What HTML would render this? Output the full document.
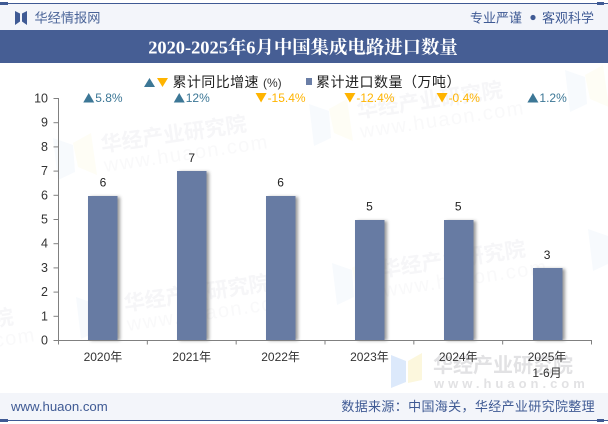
<!DOCTYPE html>
<html lang="zh">
<head>
<meta charset="utf-8">
<title>2020-2025年6月中国集成电路进口数量</title>
<style>
html,body{margin:0;padding:0;background:#fff}
#stage{position:relative;width:608px;height:424px;overflow:hidden;background:#fff;font-family:"Liberation Sans","Noto Sans CJK SC",sans-serif}
svg{position:absolute;left:0;top:0}
text{font-family:"Liberation Sans","Noto Sans CJK SC",sans-serif}
.wm-title{font-size:21px;font-weight:bold;fill:#f6f6f8}
.wm-url{font-size:20px;letter-spacing:1.5px;fill:#f9f9fa}
.wm-blue{fill:#f7fafd}
.wm-yellow{fill:#fefdf5}
</style>
</head>
<body>
<div id="stage">
<svg id="chart" width="608" height="424" viewBox="0 0 608 424">
  <defs>
    <filter id="bar-shadow" x="-20%" y="-5%" width="160%" height="110%">
      <feGaussianBlur stdDeviation="1.6"/>
    </filter>
  </defs>

  <g>
    <g transform="translate(102,152)">
      <path class="wm-blue" d="M-49 -14 L-29 -7 L-27 20 L-44 28 Z"/><path class="wm-yellow" d="M-29 -9 L-11 -19 L-5 23 L-24 15 Z"/>
      <text class="wm-title" transform="rotate(-8.3)">华经产业研究院</text>
      <text class="wm-url" transform="translate(3,20) rotate(-8.3)">www.huaon.com</text>
    </g>
    <g transform="translate(358,118)">
      <path class="wm-blue" d="M-49 -14 L-29 -7 L-27 20 L-44 28 Z"/><path class="wm-yellow" d="M-29 -9 L-11 -19 L-5 23 L-24 15 Z"/>
      <text class="wm-title" transform="rotate(-8.3)">华经产业研究院</text>
      <text class="wm-url" transform="translate(3,20) rotate(-8.3)">www.huaon.com</text>
    </g>
    <g transform="translate(125,311)">
      <path class="wm-blue" d="M-49 -14 L-29 -7 L-27 20 L-44 28 Z"/><path class="wm-yellow" d="M-29 -9 L-11 -19 L-5 23 L-24 15 Z"/>
      <text class="wm-title" transform="rotate(-8.3)">华经产业研究院</text>
      <text class="wm-url" transform="translate(3,20) rotate(-8.3)">www.huaon.com</text>
    </g>
    <g transform="translate(381,277)">
      <path class="wm-blue" d="M-49 -14 L-29 -7 L-27 20 L-44 28 Z"/><path class="wm-yellow" d="M-29 -9 L-11 -19 L-5 23 L-24 15 Z"/>
      <text class="wm-title" transform="rotate(-8.3)">华经产业研究院</text>
      <text class="wm-url" transform="translate(3,20) rotate(-8.3)">www.huaon.com</text>
    </g>
    <g transform="translate(-131,345)">
      <text class="wm-title" transform="rotate(-8.3)">华经产业研究院</text>
      <text class="wm-url" transform="translate(3,20) rotate(-8.3)">www.huaon.com</text>
    </g>
    <g transform="translate(614,84)">
      <path class="wm-blue" d="M-49 -14 L-29 -7 L-27 20 L-44 28 Z"/><path class="wm-yellow" d="M-29 -9 L-11 -19 L-5 23 L-24 15 Z"/>
    </g>
    <g transform="translate(637,243)">
      <path class="wm-blue" d="M-49 -14 L-29 -7 L-27 20 L-44 28 Z"/><path class="wm-yellow" d="M-29 -9 L-11 -19 L-5 23 L-24 15 Z"/>
    </g>
  </g>

  <rect x="0" y="4" width="608" height="26" fill="#f3f5fa"/>
  <rect x="0" y="3" width="608" height="1" fill="#3f5a94"/>
  <rect x="0" y="2" width="8" height="3" fill="#3f5a94"/>
  <rect x="597" y="2" width="7" height="3" fill="#3f5a94"/>
  <path d="M15 11 L20 13.5 L20 21.5 L15 25 Z M27 11 L22 13.5 L22 21.5 L27 25 Z" fill="#3f5a94"/>
  <text x="34.5" y="22.5" font-size="13.2" fill="#4a6498">华经情报网</text>
  <text x="470" y="22.5" font-size="13" fill="#3f5a94">专业严谨</text>
  <circle cx="533" cy="17.5" r="2.6" fill="#3f5a94"/>
  <text x="542" y="22.5" font-size="13" fill="#3f5a94">客观科学</text>

  <rect x="0" y="30" width="608" height="33" fill="#465e94"/>
  <text x="303" y="53.5" font-size="18.4" font-weight="bold" fill="#fff" text-anchor="middle" style='font-family:"Liberation Serif","Noto Serif CJK SC",serif'>2020-2025年6月中国集成电路进口数量</text>

  <path d="M391 355 L406 361 L406 382 L391 388 Z" fill="#dce9fb"/>
  <path d="M408 361 L422 353 L422 380 L408 383 Z" fill="#fcf7dd"/>
  <text x="433" y="372" font-size="20" font-weight="bold" fill="#e2e2e4">华经产业研究院</text>
  <text x="434" y="388" font-size="13" font-weight="bold" fill="#e2e2e4" letter-spacing="4">www.huaon.com</text>

  <g>
    <path d="M144 87 L149.5 78 L155 87 Z" fill="#3c7796"/>
    <path d="M157 78 L168 78 L162.5 87 Z" fill="#ffb400"/>
    <text x="172.5" y="87" font-size="14" fill="#222" letter-spacing="0.4">累计同比增速</text>
    <text x="263" y="87" font-size="12" fill="#333">(%)</text>
    <rect x="306" y="78" width="6" height="7" fill="#6a7ea6"/>
    <text x="316" y="87" font-size="14" fill="#222" letter-spacing="0.5">累计进口数量（万吨）</text>
  </g>

  <g id="plot"></g>

  <rect x="0" y="393" width="608" height="27" fill="#f3f5fa"/>
  <rect x="0" y="420" width="608" height="1" fill="#3f5a94"/>
  <rect x="0" y="419" width="8" height="3" fill="#3f5a94"/>
  <rect x="597" y="419" width="7" height="3" fill="#3f5a94"/>
  <text x="11" y="411" font-size="13.2" fill="#3f5a94">www.huaon.com</text>
  <text x="595" y="411" font-size="13" fill="#3f5a94" text-anchor="end" letter-spacing="0.35">数据来源：中国海关，华经产业研究院整理</text>
</svg>
</div>
<script>
const categories = ['2020年', '2021年', '2022年', '2023年', '2024年', '2025年'];
const categorySubLabels = ['', '', '', '', '', '1-6月'];
const volumes = [6, 7, 6, 5, 5, 3];
const growthRates = [5.8, 12, -15.4, -12.4, -0.4, 1.2];
const yTicks = [0, 1, 2, 3, 4, 5, 6, 7, 8, 9, 10];

const NS = 'http://www.w3.org/2000/svg';
const plot = document.getElementById('plot');
const axisLeft = 58.5, axisRight = 591.5, axisBottom = 340.5, axisTop = 98.5;
const yMax = 10;
const barWidth = 29.5;
const bandWidth = (axisRight - axisLeft) / categories.length;
const xScale = i => axisLeft + bandWidth * (i + 0.5);
const yScale = v => axisBottom - (v / yMax) * (axisBottom - axisTop);

function make(tag, attrs, text) {
  const el = document.createElementNS(NS, tag);
  for (const k in attrs) el.setAttribute(k, attrs[k]);
  if (text !== undefined) el.textContent = text;
  plot.appendChild(el);
  return el;
}

volumes.forEach((v, i) => {
  const cx = xScale(i);
  const rawTop = yScale(v);
  const top = Math.round(rawTop + 0.3);
  const left = Math.round(cx - 14.5);
  const shadow = make('rect', {x: left + 2.5, y: top + 1, width: barWidth, height: axisBottom - top - 1, fill: '#555', opacity: 0.6, filter: 'url(#bar-shadow)'});
  
  
  const bar = make('rect', {x: left, y: top, width: barWidth, height: axisBottom - top, fill: '#677ba3'});
  
  
  const label = make('text', {x: cx, y: rawTop - 9, 'font-size': 12, fill: '#222', 'text-anchor': 'middle'}, String(v));
  
  
});

const axisLines = make('path', {d: `M${axisLeft - 5} ${axisTop}H${axisLeft}V${axisBottom}H${axisRight}V${axisBottom + 4}`, fill: 'none', stroke: '#808080', 'stroke-width': 1});



yTicks.forEach(t => {
  const y = yScale(t);
  const tick = make('line', {x1: axisLeft - 5, x2: axisLeft, y1: y, y2: y, stroke: '#808080', 'stroke-width': 1});
  
  
  const label = make('text', {x: 48, y: y + 4, 'font-size': 12.5, fill: '#333', 'text-anchor': 'end'}, String(t));
  
  
});

categories.forEach((c, i) => {
  const edge = axisLeft + bandWidth * i;
  const tick = make('line', {x1: edge, x2: edge, y1: axisBottom, y2: axisBottom + 4, stroke: '#808080', 'stroke-width': 1});
  
  
  const cx = xScale(i);
  const label = make('text', {x: cx, y: 361, 'font-size': 12, fill: '#333', 'text-anchor': 'middle'}, c);
  
  
  if (categorySubLabels[i]) {
    const sub = make('text', {x: cx, y: 377, 'font-size': 12, fill: '#333', 'text-anchor': 'middle'}, categorySubLabels[i]);
    
    
  }
});

growthRates.forEach((g, i) => {
  const cx = xScale(i);
  const up = g >= 0;
  const color = up ? '#3c7796' : '#ffb400';
  const label = make('text', {x: 0, y: 102, 'font-size': 12, fill: color}, g + '%');
  
  
  const textLength = label.getComputedTextLength();
  const ix = cx - (12 + textLength) / 2;
  label.setAttribute('x', ix + 12);
  const arrow = make('path', {d: up
    ? `M${ix} 102.5 L${ix + 5.5} 93 L${ix + 11} 102.5 Z`
    : `M${ix} 93 L${ix + 11} 93 L${ix + 5.5} 102.5 Z`, fill: color});
  
  
});
</script>
</body>
</html>
